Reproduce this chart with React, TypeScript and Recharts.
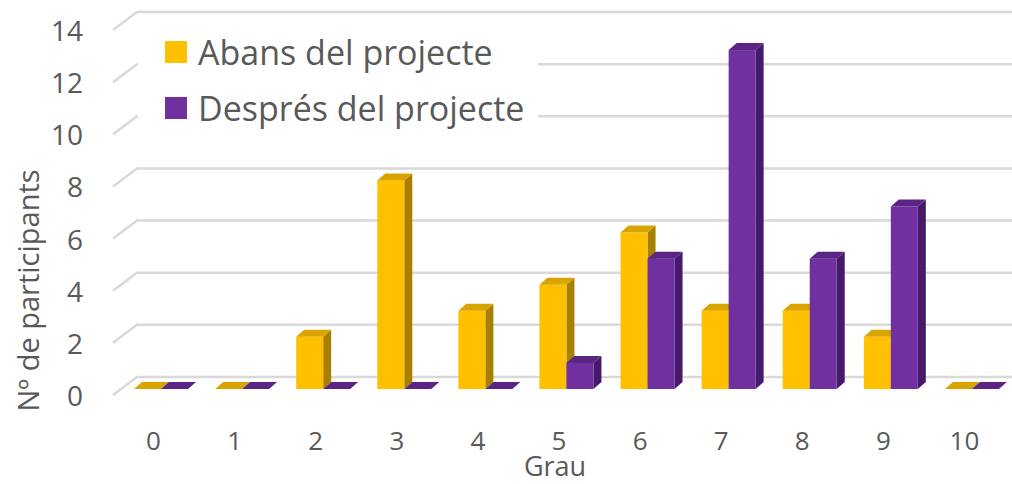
import { Bar, BarChart, CartesianGrid, Legend, XAxis, YAxis } from "recharts";

const categories = ["0", "1", "2", "3", "4", "5", "6", "7", "8", "9", "10"];
const abans = [0, 0, 2, 8, 3, 4, 6, 3, 3, 2, 0];
const despres = [0, 0, 0, 0, 0, 1, 5, 13, 5, 7, 0];
const yTicks = [0, 2, 4, 6, 8, 10, 12, 14];

const seriesNames = { abans: "Abans del projecte", despres: "Després del projecte" };

const YELLOW = { front: "#FFC000", top: "#D9A400", side: "#A88000" };
const PURPLE = { front: "#7030A0", top: "#5A2585", side: "#47196B" };

const DX = 8;
const DY = 7;
const TEXT = "#595959";
const FONT = "'Open Sans', sans-serif";

const data = categories.map((grau, i) => ({ grau, abans: abans[i], despres: despres[i] }));

function Bar3D(props: any) {
  const { x, y, width, height, colors } = props;
  if (x == null || y == null) return null;
  const h = Math.max(0, height || 0);
  const top = `${x},${y} ${x + DX},${y - DY} ${x + width + DX},${y - DY} ${x + width},${y}`;
  const side = `${x + width},${y} ${x + width + DX},${y - DY} ${x + width + DX},${y + h - DY} ${x + width},${y + h}`;
  return (
    <g>
      {h > 0 && <polygon points={side} fill={colors.side} />}
      {h > 0 && <rect x={x} y={y} width={width} height={h} fill={colors.front} />}
      <polygon points={top} fill={colors.top} />
    </g>
  );
}

// gridline with a slanted front part, like Excel's 3d wall
function GridLine(props: any) {
  const { x1, x2, y1 } = props;
  const pts = `${x1 - 7},${y1 + 6} ${x1 + 17},${y1 - 12} ${x2 + 2},${y1 - 12}`;
  return <polyline key={props.key ?? y1} points={pts} fill="none" stroke="#D9D9D9" strokeWidth={2.5} />;
}

function YTick(props: any) {
  const { y, payload } = props;
  return (
    <text x={83} y={y + 6} textAnchor="end" dominantBaseline="central" fill={TEXT} fontSize={28} fontFamily={FONT}>
      {payload.value}
    </text>
  );
}

function XTick(props: any) {
  const { x, y, payload } = props;
  return (
    <text x={x - 7} y={y + 51} textAnchor="middle" dominantBaseline="central" fill={TEXT} fontSize={26} fontFamily={FONT}>
      {payload.value}
    </text>
  );
}

function LegendBox() {
  const rows = [
    { name: seriesNames.abans, color: YELLOW.front },
    { name: seriesNames.despres, color: PURPLE.front },
  ];
  return (
    <div style={{ background: "#fff", width: 400, height: 112, position: "relative" }}>
      {rows.map((r, i) => (
        <div
          key={r.name}
          style={{ position: "absolute", left: 27, top: 5 + i * 56, height: 44, display: "flex", alignItems: "center" }}
        >
          <span style={{ width: 22, height: 22, background: r.color, display: "inline-block", marginRight: 11 }} />
          <span style={{ color: TEXT, fontSize: 34, fontFamily: FONT, whiteSpace: "nowrap" }}>{r.name}</span>
        </div>
      ))}
    </div>
  );
}

export default function App() {
  return (
    <div style={{ position: "absolute", left: 0, top: 0, background: "#fff" }}>
      <BarChart
        width={1012}
        height={484}
        data={data}
        margin={{ top: 24, right: 0, left: 0, bottom: 0 }}
        barSize={27}
        barGap={0}
      >
        <CartesianGrid vertical={false} horizontal={(p: any) => <GridLine {...p} />} />
        <XAxis
          dataKey="grau"
          height={95}
          axisLine={false}
          tickLine={false}
          tickSize={0}
          tickMargin={0}
          interval={0}
          tick={<XTick />}
          label={({ viewBox }: any) => (
            <text
              x={viewBox.x + viewBox.width / 2 - 11}
              y={viewBox.y + 76}
              textAnchor="middle"
              dominantBaseline="central"
              fill={TEXT}
              fontSize={27}
              fontFamily={FONT}
            >
              Grau
            </text>
          )}
        />
        <YAxis
          width={120}
          domain={[0, 14]}
          ticks={yTicks}
          axisLine={false}
          tickLine={false}
          tick={<YTick />}
          label={({ viewBox }: any) => (
            <text
              x={27}
              y={viewBox.y + viewBox.height / 2 + 84}
              textAnchor="middle"
              dominantBaseline="central"
              fill={TEXT}
              fontSize={29}
              fontFamily={FONT}
              transform={`rotate(-90, 27, ${viewBox.y + viewBox.height / 2 + 84})`}
            >
              Nº de participants
            </text>
          )}
        />
        <Legend
          layout="vertical"
          align="center"
          verticalAlign="middle"
          wrapperStyle={{ left: 138, top: 25, width: 400 }}
          content={() => <LegendBox />}
        />
        <Bar dataKey="abans" name={seriesNames.abans} isAnimationActive={false} shape={(p: any) => <Bar3D {...p} colors={YELLOW} />} />
        <Bar dataKey="despres" name={seriesNames.despres} isAnimationActive={false} shape={(p: any) => <Bar3D {...p} colors={PURPLE} />} />
      </BarChart>
    </div>
  );
}
